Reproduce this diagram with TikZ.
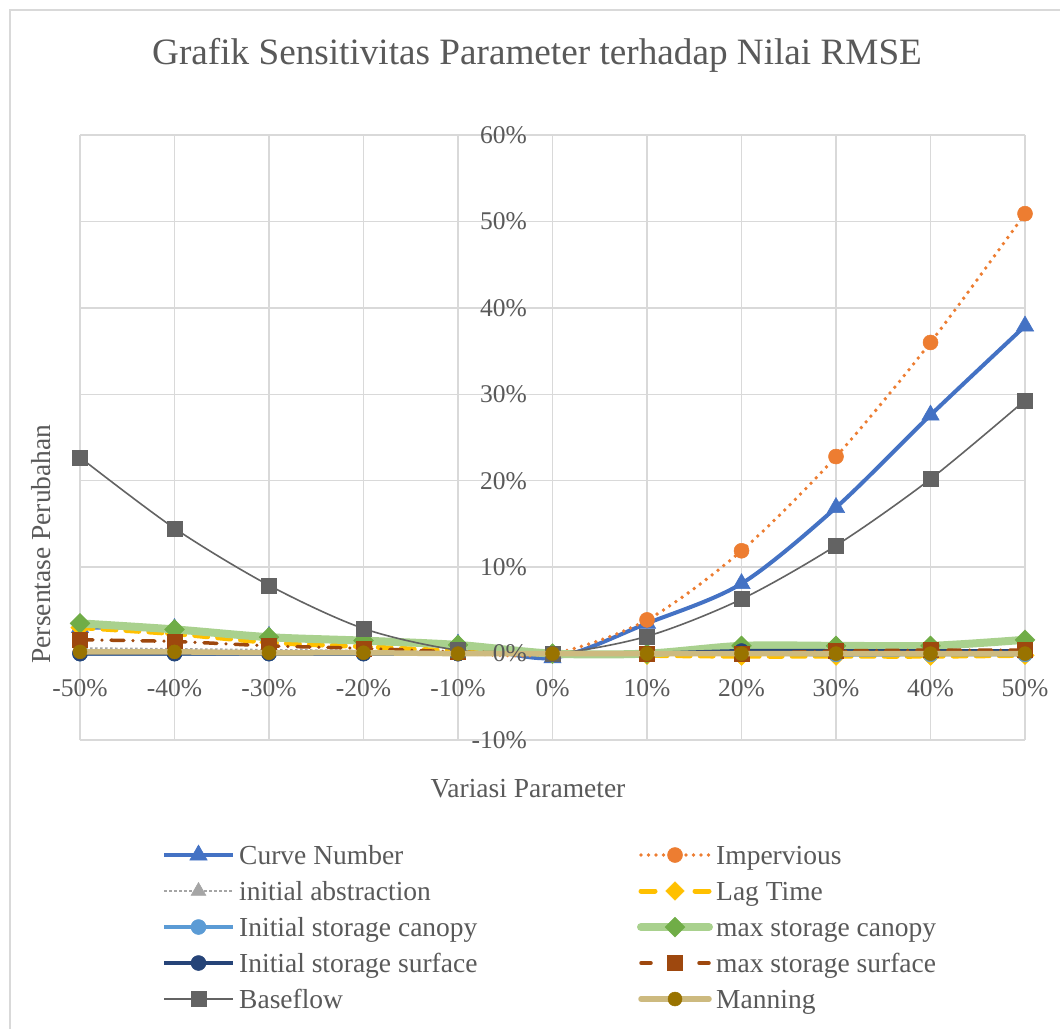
\documentclass[tikz,border=0pt]{standalone}
\usepackage{fontspec}
\setmainfont{Liberation Serif}
\usetikzlibrary{plotmarks}
\definecolor{txt}{HTML}{595959}
\definecolor{gridc}{HTML}{D9D9D9}
\definecolor{cBlue}{HTML}{4472C4}
\definecolor{cOrange}{HTML}{ED7D31}
\definecolor{cGray}{HTML}{A5A5A5}
\definecolor{cGold}{HTML}{FFC000}
\definecolor{cLBlue}{HTML}{5B9BD5}
\definecolor{cGreen}{HTML}{70AD47}
\definecolor{cLGreen}{HTML}{A9D18E}
\definecolor{cDBlue}{HTML}{264478}
\definecolor{cBrown}{HTML}{9E480E}
\definecolor{cDGray}{HTML}{636363}
\definecolor{cOlive}{HTML}{997300}
\definecolor{cTan}{HTML}{CDBA7F}
\tikzset{
  lbl/.style={text=txt, inner sep=0pt, font=\fontsize{25.5}{30}\selectfont},
  leg/.style={text=txt, inner sep=0pt, font=\fontsize{27.5}{32}\selectfont},
  gridline/.style={draw=gridc, line width=1.5pt},
  sCN/.style={draw=cBlue, line width=4pt, line join=round},
  mCN/.style={mark=triangle*, mark size=10pt, mark options={solid, fill=cBlue, draw=cBlue, line width=0.5pt}},
  sIMP/.style={draw=cOrange, line width=3.8pt, dash pattern=on 0pt off 7.5pt, line cap=round},
  mIMP/.style={mark=*, mark size=7.5pt, mark options={solid, fill=cOrange, draw=cOrange, line width=0.5pt}},
  sIA/.style={draw=cGray, line width=2.5pt, dash pattern=on 2.5pt off 2.5pt},
  mIA/.style={mark=triangle*, mark size=8.5pt, mark options={solid, fill=cGray, draw=cGray, line width=0.5pt}},
  sLAG/.style={draw=cGold, line width=5pt, dash pattern=on 13pt off 10pt, line cap=round},
  mLAG/.style={mark=square*, mark size=6.5pt, mark options={solid, rotate=45, fill=cGold, draw=cGold, line width=0.5pt}},
  sISC/.style={draw=cLBlue, line width=4pt},
  mISC/.style={mark=*, mark size=7.5pt, mark options={solid, fill=cLBlue, draw=cLBlue, line width=0.5pt}},
  sMSC/.style={draw=cLGreen, line width=8pt, line cap=round, line join=round},
  mMSC/.style={mark=square*, mark size=7pt, mark options={solid, rotate=45, fill=cGreen, draw=cGreen, line width=0.5pt}},
  sISS/.style={draw=cDBlue, line width=4pt},
  mISS/.style={mark=*, mark size=7.5pt, mark options={solid, fill=cDBlue, draw=cDBlue, line width=0.5pt}},
  sMSS/.style={draw=cBrown, line width=3.5pt, dash pattern=on 13pt off 9pt on 0pt off 9pt, line cap=round},
  mMSS/.style={mark=square*, mark size=7.5pt, mark options={solid, fill=cBrown, draw=cBrown, line width=0.5pt}},
  sBF/.style={draw=cDGray, line width=1.6pt},
  mBF/.style={mark=square*, mark size=7.5pt, mark options={solid, fill=cDGray, draw=cDGray, line width=0.5pt}},
  sMAN/.style={draw=cTan, line width=5.5pt, line cap=round},
  mMAN/.style={mark=*, mark size=7pt, mark options={solid, fill=cOlive, draw=cOlive, line width=0.5pt}},
  legLAG/.style={dash pattern=on 14pt off 40pt on 14pt},
  legMSS/.style={dash pattern=on 10pt off 48pt on 10pt},
  legCN/.style={}, legIA/.style={}, legISC/.style={}, legISS/.style={}, legBF/.style={},
  legIMP/.style={}, legMSC/.style={}, legMAN/.style={},
}
\begin{document}
\begin{tikzpicture}[x=1pt,y=-1pt]
\useasboundingbox (0,0) rectangle (1060,1028);
\fill[white] (0,0) rectangle (1060,1028);
\draw[draw=gridc, line width=1.2pt] (10,1040) -- (10,10) -- (1070,10);
% title
\node[text=txt, inner sep=0pt, font=\fontsize{37.2}{42}\selectfont] (title) at (537,55) {Grafik Sensitivitas Parameter terhadap Nilai RMSE};
\begin{scope}[shift={(552.5,653.6)}, x=94.5pt, y=8.643pt]
  \foreach \i in {-5,...,5} \draw[gridline] (\i,-10) -- (\i,60);
  \foreach \v in {-10,0,...,60} \draw[gridline] (-5,\v) -- (5,\v);
  \foreach \i/\t in {-5/-50,-4/-40,-3/-30,-2/-20,-1/-10,0/0,1/10,2/20,3/30,4/40,5/50}
    \node[lbl, anchor=base] (xt\i) at (\i,-4.95) {\t\%};
  % series
  \draw[sCN] plot[smooth, tension=0.5] coordinates {(-5,3.0) (-4,2.9) (-3,2.0) (-2,1.6) (-1,1.1) (0,-0.5) (1,3.5) (2,8.1) (3,16.9) (4,27.6) (5,37.9)};
  \path[mCN] plot coordinates {(-5,3.0) (-4,2.9) (-3,2.0) (-2,1.6) (-1,1.1) (0,-0.5) (1,3.5) (2,8.1) (3,16.9) (4,27.6) (5,37.9)};
  \draw[sIMP] plot[smooth, tension=0.5] coordinates {(-5,0.1) (-4,0.1) (-3,0.1) (-2,0.1) (-1,0.0) (0,0) (1,3.9) (2,11.9) (3,22.8) (4,36.0) (5,50.9)};
  \path[mIMP] plot coordinates {(-5,0.1) (-4,0.1) (-3,0.1) (-2,0.1) (-1,0.0) (0,0) (1,3.9) (2,11.9) (3,22.8) (4,36.0) (5,50.9)};
  \draw[sIA] plot[smooth, tension=0.5] coordinates {(-5,0.6) (-4,0.5) (-3,0.4) (-2,0.3) (-1,0.1) (0,0) (1,0) (2,0) (3,0) (4,0) (5,0)};
  \path[mIA] plot coordinates {(-5,0.6) (-4,0.5) (-3,0.4) (-2,0.3) (-1,0.1) (0,0) (1,0) (2,0) (3,0) (4,0) (5,0)};
  \draw[sLAG] plot[smooth, tension=0.5] coordinates {(-5,3.0) (-4,2.3) (-3,1.3) (-2,0.8) (-1,0.3) (0,0) (1,-0.2) (2,-0.3) (3,-0.3) (4,-0.3) (5,-0.2)};
  \path[mLAG] plot coordinates {(-5,3.0) (-4,2.3) (-3,1.3) (-2,0.8) (-1,0.3) (0,0) (1,-0.2) (2,-0.3) (3,-0.3) (4,-0.3) (5,-0.2)};
  \draw[sISC] plot[smooth, tension=0.5] coordinates {(-5,0) (-4,0) (-3,0) (-2,0) (-1,0) (0,0) (1,0) (2,0) (3,-0.1) (4,-0.1) (5,-0.1)};
  \path[mISC] plot coordinates {(-5,0) (-4,0) (-3,0) (-2,0) (-1,0) (0,0) (1,0) (2,0) (3,-0.1) (4,-0.1) (5,-0.1)};
  \draw[sMSC] plot[smooth, tension=0.5] coordinates {(-5,3.5) (-4,2.8) (-3,1.9) (-2,1.5) (-1,1.0) (0,0) (1,0.0) (2,0.9) (3,0.9) (4,0.9) (5,1.6)};
  \path[mMSC] plot coordinates {(-5,3.5) (-4,2.8) (-3,1.9) (-2,1.5) (-1,1.0) (0,0) (1,0.0) (2,0.9) (3,0.9) (4,0.9) (5,1.6)};
  \draw[sISS] plot[smooth, tension=0.5] coordinates {(-5,0) (-4,0) (-3,0) (-2,0) (-1,0) (0,0) (1,0) (2,0.3) (3,0.3) (4,0.3) (5,0.3)};
  \path[mISS] plot coordinates {(-5,0) (-4,0) (-3,0) (-2,0) (-1,0) (0,0) (1,0) (2,0.3) (3,0.3) (4,0.3) (5,0.3)};
  \draw[sMSS] plot[smooth, tension=0.5] coordinates {(-5,1.6) (-4,1.4) (-3,0.9) (-2,0.6) (-1,0.2) (0,0) (1,0) (2,0) (3,0.3) (4,0.4) (5,0.4)};
  \path[mMSS] plot coordinates {(-5,1.6) (-4,1.4) (-3,0.9) (-2,0.6) (-1,0.2) (0,0) (1,0) (2,0) (3,0.3) (4,0.4) (5,0.4)};
  \draw[sBF] plot[smooth, tension=0.5] coordinates {(-5,22.7) (-4,14.5) (-3,7.9) (-2,2.9) (-1,0.4) (0,0) (1,2.0) (2,6.3) (3,12.5) (4,20.2) (5,29.3)};
  \path[mBF] plot coordinates {(-5,22.7) (-4,14.5) (-3,7.9) (-2,2.9) (-1,0.4) (0,0) (1,2.0) (2,6.3) (3,12.5) (4,20.2) (5,29.3)};
  \draw[sMAN] plot[smooth, tension=0.5] coordinates {(-5,0.2) (-4,0.2) (-3,0.1) (-2,0.1) (-1,0) (0,0) (1,0) (2,0) (3,0) (4,0) (5,0)};
  \path[mMAN] plot coordinates {(-5,0.2) (-4,0.2) (-3,0.1) (-2,0.1) (-1,0) (0,0) (1,0) (2,0) (3,0) (4,0) (5,0)};
  % y tick labels
  \foreach \v in {-10,0,...,60}
    \node[lbl, anchor=east] (yt\v) at (-0.27,\v) {\v\%};
\end{scope}
% axis titles
\node[leg] (xtitle) at (528,789) {Variasi Parameter};
\node[leg, rotate=90] (ytitle) at (41,544) {Persentase Perubahan};
% legend
\foreach \s/\n/\y/\t in {CN/lCN/855/Curve Number, IA/lIA/891/initial abstraction, ISC/lISC/927/Initial storage canopy, ISS/lISS/963/Initial storage surface, BF/lBF/999/Baseflow}{
  \draw[s\s, leg\s] (164,\y) -- (233,\y);
  \path[m\s] plot coordinates {(198.5,\y)};
  \node[leg, anchor=base west] (\n) at (239,\y+9.5) {\t};
}
\foreach \s/\n/\y/\t in {IMP/lIMP/855/Impervious, LAG/lLAG/891/Lag Time, MSC/lMSC/927/max storage canopy, MSS/lMSS/963/max storage surface, MAN/lMAN/999/Manning}{
  \draw[s\s, leg\s] (641,\y) -- (709,\y);
  \path[m\s] plot coordinates {(675,\y)};
  \node[leg, anchor=base west] (\n) at (716,\y+9.5) {\t};
}
\end{tikzpicture}
\end{document}
